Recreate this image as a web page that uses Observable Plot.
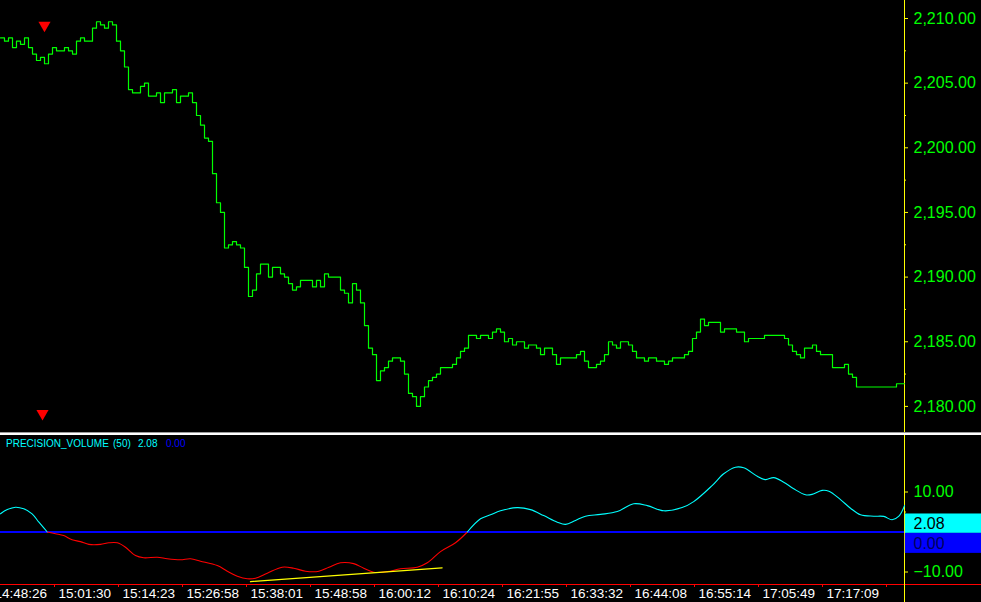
<!DOCTYPE html>
<html><head><meta charset="utf-8">
<script src="https://cdn.jsdelivr.net/npm/d3@7"></script>
<script src="https://cdn.jsdelivr.net/npm/@observablehq/plot@0.6"></script>
<style>
body{margin:0;background:#000;}
#wrap{position:relative;width:981px;height:602px;background:#000;overflow:hidden;font-family:"Liberation Sans",Arial,sans-serif;}
#wrap svg{position:absolute;left:0;}
.hl{position:absolute;left:0;width:981px;}
#legend{position:absolute;top:438px;left:0;height:14px;font-size:10px;color:#00ffff;white-space:pre;}
#legend span{position:absolute;top:0;}
</style></head><body>
<div id="wrap">
  <div class="hl" style="top:432px;height:1px;background:#9a9a9a"></div>
  <div class="hl" style="top:433px;height:2px;background:#ffffff"></div>
  <div class="hl" style="top:584px;height:1px;background:#ff0000"></div>
</div>
<script>
// ---------- data ----------
const price = [
2208.5,2208.25,2208.5,2207.75,2208.25,2208.0,2208.5,2207.75,2207.25,2206.75,
2207.0,2206.5,2207.25,2207.75,2207.5,2207.5,2207.75,2207.5,2207.25,2208.25,
2208.5,2208.25,2208.25,2209.25,2209.75,2209.5,2209.25,2209.75,2209.5,2208.25,
2207.5,2206.25,2204.5,2204.25,2204.25,2204.75,2205.0,2204.0,2204.0,2204.25,
2203.5,2204.25,2204.25,2204.5,2203.5,2204.0,2204.0,2204.25,2203.5,2202.5,
2201.75,2200.75,2200.5,2198.0,2195.75,2195.0,2192.25,2192.5,2192.75,2192.5,
2192.25,2190.75,2188.5,2189.0,2190.25,2191.0,2191.0,2190.0,2190.75,2190.75,
2190.25,2190.0,2189.5,2189.0,2189.25,2189.75,2189.75,2189.75,2189.25,2189.75,
2189.25,2190.25,2190.0,2190.0,2190.0,2189.0,2188.75,2188.0,2189.5,2189.0,
2188.0,2186.25,2184.5,2184.0,2182.0,2182.75,2183.0,2183.5,2183.75,2183.75,
2183.5,2182.5,2181.0,2180.75,2180.0,2180.75,2181.5,2182.0,2182.25,2182.5,
2183.0,2183.0,2183.0,2183.25,2183.75,2184.25,2184.5,2185.5,2185.5,2185.25,
2185.5,2185.5,2185.25,2185.75,2186.0,2185.75,2185.0,2185.25,2184.75,2185.0,
2185.0,2184.5,2184.75,2184.75,2184.5,2184.0,2184.5,2184.5,2184.0,2183.25,
2183.75,2183.75,2183.75,2183.75,2184.0,2184.25,2183.5,2183.0,2183.0,2183.25,
2183.5,2184.0,2185.0,2184.75,2184.5,2185.0,2185.0,2184.75,2184.25,2183.75,
2183.75,2183.5,2183.75,2183.75,2183.5,2183.5,2183.25,2183.5,2183.75,2183.75,
2183.75,2184.0,2184.25,2185.25,2185.75,2186.75,2186.25,2186.5,2186.5,2186.5,
2185.75,2186.0,2186.0,2186.0,2185.75,2185.75,2185.0,2185.25,2185.25,2185.25,
2185.25,2185.5,2185.5,2185.5,2185.5,2185.5,2185.25,2184.75,2184.25,2184.0,
2183.75,2184.5,2184.5,2184.75,2184.25,2184.0,2184.0,2184.0,2183.0,2183.0,
2183.0,2183.25,2182.5,2182.25,2181.5,2181.5,2181.5,2181.5,2181.5,2181.5,
2181.5,2181.5,2181.5,2181.5,2181.75,2181.75
];
const priceTicks = [2180,2185,2190,2195,2200,2205,2210];
const priceMinor = [2182.5,2187.5,2192.5,2197.5,2202.5,2207.5];

const markerBar = [11, 10.5];
const markerPrice = [2209.47, 2179.45];

const pvBar = [0,1.7,3.75,5.8,7.9,9.6,11.7,13.75,15.8,17.9,20,22.1,25,27.1,29.2,31.25,33.75,35.8,39.2,41.7,45,47.5,50,54.2,56.7,59.2,61.7,63.75,66.7,70.4,73.3,76.25,79.6,82.1,85,88.3,90.8,93.3,96.7,100,104.2,106.7,110,113.75,116.7,120,122.5,125,129.2,132.5,135.8,139.2,141.25,143.75,146.25,150,154.2,158.3,161.7,165.8,170.4,173.3,177.9,180.8,183.75,185.8,189.2,191.25,193.3,195.8,198.3,201.25,202.9,205.4,207.1,210,212.5,215,218.3,220.8,222.9,224.6,226];
const pvValue = [4.55,5.6,6.2,5.8,4.55,2.45,0,-0.45,-0.9,-1.95,-2.4,-3.1,-3.1,-2.7,-2.7,-3.8,-5.9,-6.45,-6.3,-6.7,-6.95,-6.7,-7.3,-8.4,-9.8,-11.05,-11.7,-11.55,-10.3,-8.8,-9.05,-9.8,-9.8,-8.8,-7.7,-7.9,-9.05,-10.05,-9.9,-9.2,-8.8,-7.7,-4.9,-2.7,0,3.3,4.3,5.3,6.1,5.6,4.1,2.45,1.9,2.9,3.95,4.4,5.1,7.05,6.6,5.3,6.1,7.6,11.6,14.55,16.2,16.05,13.95,13.1,13.6,12.45,10.8,9.3,9.4,10.4,10.2,8.1,5.95,4.3,3.95,3.9,3.05,3.95,6.6];
const trendBar = [62.5, 110.4];
const trendValue = [-12.4, -8.95];
const pvTickLabels = [10, -10];
const pvTickMarks = [10, 5, 0, -5, -10];
const pvLast = 2.08;
const pvZero = 0.00;

const timeLabels = ["14:48:26","15:01:30","15:14:23","15:26:58","15:38:01","15:48:58","16:00:12","16:10:24","16:21:55","16:33:32","16:44:08","16:55:14","17:05:49","17:17:09"];
const timeTickBars = [-3,13,29,45,61,77,93,109,125,141,157,173,189,205,221];

// ---------- layout ----------
const W = 981, AXIS_W = 77;
const nBars = price.length;
const xEdge = W / 4;
const FONT = '"Liberation Sans", Arial, sans-serif';
const wrap = document.getElementById("wrap");

const stepData = price.map((v, i) => ({x: i, y: v})).concat([{x: nBars, y: price[nBars - 1]}]);
const markers = markerBar.map((b, i) => ({x: b, y: markerPrice[i]}));
const downTriangle = {
  draw(ctx, size) {
    const s = Math.sqrt(size * 4 / Math.sqrt(3));
    const h = s * Math.sqrt(3) / 2;
    ctx.moveTo(-s / 2, -h / 3);
    ctx.lineTo(s / 2, -h / 3);
    ctx.lineTo(0, 2 * h / 3);
    ctx.closePath();
  }
};
const fmtPrice = d3.format(",.2f");
const fmt2 = d3.format(".2f");

const priceTop = 2210 + 18 / 12.93, priceBottom = 2210 - 414 / 12.93;

const topPlot = Plot.plot({
  width: W, height: 432,
  marginLeft: 0, marginRight: AXIS_W, marginTop: 0, marginBottom: 0,
  x: {domain: [0, nBars], axis: null},
  y: {domain: [priceBottom, priceTop], axis: null},
  style: {background: "transparent", color: "#fff", overflow: "visible", fontFamily: FONT},
  marks: [
    Plot.ruleX([nBars], {stroke: "#ffff00"}),
    Plot.ruleY(priceMinor, {x1: nBars, x2: nBars + 0.5, stroke: "#ffff00"}),
    Plot.ruleY(priceTicks, {x1: nBars, x2: nBars + 1, stroke: "#ffff00"}),
    Plot.text(priceTicks, {x: nBars, y: d => d, text: d => fmtPrice(d), dx: 9, textAnchor: "start", fill: "#00ff00", fontSize: 16}),
    Plot.line(stepData, {x: "x", y: "y", curve: "step-after", stroke: "#00ff00", strokeWidth: 1.2}),
    Plot.dot(markers, {x: "x", y: "y", symbol: downTriangle, r: 4.5, fill: "#ff0000", stroke: "none"})
  ]
});
topPlot.style.top = "0px";
wrap.appendChild(topPlot);

// split indicator into runs by sign (zero points belong to both neighbouring runs)
const pvSegs = [];
let seg = 0, sign = Math.sign(pvValue[0]) || 1;
pvValue.forEach((v, i) => {
  const s = Math.sign(v);
  if (s !== 0 && s !== sign) { seg++; sign = s; if (pvValue[i - 1] === 0) pvSegs.push({x: pvBar[i - 1], y: 0, seg, c: s > 0 ? "#00ffff" : "#ff0000"}); }
  pvSegs.push({x: pvBar[i], y: v, seg, c: sign > 0 ? "#00ffff" : "#ff0000"});
});

const pvTop = (531.5 - 435) / 4, pvBottom = (531.5 - 584) / 4;
const trend = trendBar.map((b, i) => ({x: b, y: trendValue[i]}));
const half = 2.425;
const boxes = [
  {y1: pvLast - half, y2: pvLast + half, fill: "#00ffff", label: fmt2(pvLast), ty: pvLast, tc: "#000000"},
  {y1: pvLast - half - 5, y2: pvLast - half, fill: "#0000ff", label: fmt2(pvZero), ty: pvLast - half - 2.5, tc: "#00005a"}
];

const botPlot = Plot.plot({
  width: W, height: 167,
  marginLeft: 0, marginRight: AXIS_W, marginTop: 0, marginBottom: 18,
  x: {domain: [0, nBars], axis: null},
  y: {domain: [pvBottom, pvTop], axis: null},
  color: {type: "identity"},
  style: {background: "transparent", color: "#fff", overflow: "visible", fontFamily: FONT},
  marks: [
    Plot.ruleY([0], {stroke: "#0000ff", strokeWidth: 2}),
    Plot.ruleX([nBars], {y1: pvTop, y2: pvBottom - 18 / 4, stroke: "#ffff00"}),
    Plot.ruleY(pvTickMarks, {x1: nBars, x2: d => nBars + (pvTickLabels.includes(d) ? 1 : 0.5), stroke: "#ffff00"}),
    Plot.text(pvTickLabels, {x: nBars, y: d => d, text: d => fmt2(d), dx: 9, textAnchor: "start", fill: "#00ff00", fontSize: 16}),
    Plot.line(pvSegs, {x: "x", y: "y", z: "seg", stroke: "c", curve: "catmull-rom", strokeWidth: 1.1}),
    Plot.line(trend, {x: "x", y: "y", stroke: "#ffff00", strokeWidth: 1.3}),
    Plot.ruleX(timeTickBars, {x: d => d + 0.5, y1: pvBottom, y2: pvBottom - 0.75, stroke: "#ff0000"}),
    Plot.text(timeLabels, {x: (d, i) => timeTickBars[i] + 0.5, y: () => pvBottom, text: d => d, dx: 4, dy: 4, lineAnchor: "top", textAnchor: "start", fill: "#ffffff", fontSize: 13.5}),
    Plot.rect(boxes, {x1: nBars + 0.2, x2: xEdge, y1: "y1", y2: "y2", fill: "fill"}),
    Plot.text(boxes, {x: nBars, y: "ty", text: "label", dx: 9, textAnchor: "start", fill: "tc", fontSize: 16})
  ]
});
botPlot.style.top = "435px";
wrap.appendChild(botPlot);

// legend of the indicator panel
const legend = document.createElement("div");
legend.id = "legend";
[["PRECISION_VOLUME", 6, "#00ffff"], ["(50)", 113, "#00ffff"], [fmt2(pvLast), 138, "#00ffff"], [fmt2(pvZero), 166, "#0000ff"]].forEach(([t, x, c]) => {
  const s = document.createElement("span");
  s.textContent = t; s.style.left = x + "px"; s.style.color = c;
  legend.appendChild(s);
});
wrap.appendChild(legend);
</script>
</body></html>
